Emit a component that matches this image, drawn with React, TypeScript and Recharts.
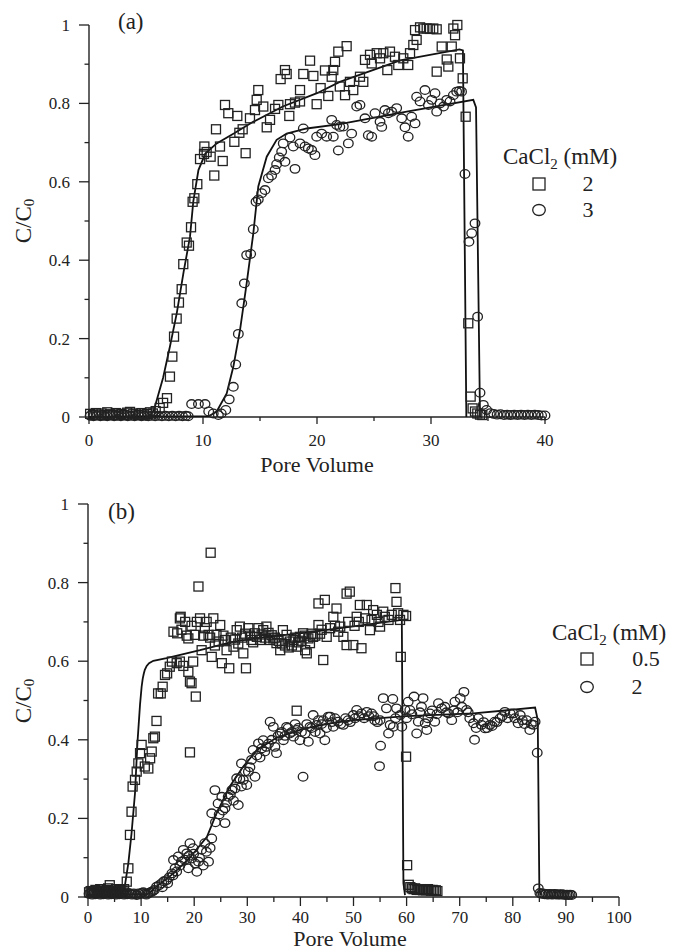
import { ScatterChart, Scatter, XAxis, YAxis } from "recharts";

const INK = "#222";
const SERIF = '"Liberation Serif", "Times New Roman", serif';

// ---- panel (a): CaCl2 2 mM (squares) and 3 mM (circles), [pore volume, C/C0]
const aSquares = [
  [0.1, 0.008], [0.35, 0.005], [0.6, 0.01], [0.85, 0.006], [1.1, 0.009], [1.35, 0.005], [1.6, 0.012],
  [1.85, 0.007], [2.1, 0.005], [2.35, 0.01], [2.6, 0.006], [2.85, 0.008], [3.1, 0.005], [3.35, 0.011],
  [3.6, 0.013], [3.85, 0.007], [4.1, 0.009], [4.35, 0.005], [4.6, 0.01], [4.85, 0.006], [5.1, 0.008],
  [5.35, 0.012], [5.6, 0.009], [5.85, 0.015], [6.2, 0.023], [6.5, 0.036], [6.84, 0.048],
  [7.1, 0.103], [7.31, 0.154], [7.46, 0.205], [7.69, 0.251], [7.89, 0.292], [8.13, 0.326], [8.27, 0.39],
  [8.57, 0.445], [8.77, 0.437], [8.95, 0.484], [9.09, 0.549], [9.24, 0.558], [9.5, 0.594], [9.74, 0.658],
  [10.09, 0.671], [10.32, 0.676], [10.67, 0.664], [10.12, 0.69], [10.99, 0.616], [11.49, 0.69],
  [11.14, 0.734], [11.73, 0.653], [12.75, 0.702], [13.74, 0.673], [13.19, 0.725], [13.48, 0.734],
  [11.93, 0.796], [12.22, 0.775], [13.01, 0.768], [14.12, 0.762], [14.56, 0.783], [14.71, 0.809],
  [14.85, 0.834], [15.29, 0.792], [15.59, 0.739], [15.88, 0.758], [16.32, 0.786], [16.61, 0.796],
  [16.81, 0.862], [17.19, 0.885], [17.34, 0.875], [17.57, 0.768], [17.63, 0.798], [18.07, 0.802],
  [18.51, 0.805], [18.51, 0.834], [18.8, 0.875], [19.39, 0.909], [19.68, 0.87], [19.97, 0.798],
  [20.32, 0.839], [20.7, 0.884], [20.99, 0.819], [21.29, 0.868], [21.43, 0.885], [21.58, 0.906],
  [21.87, 0.932], [22.6, 0.946], [22.46, 0.821], [22.0, 0.843], [22.89, 0.855], [23.18, 0.834],
  [23.77, 0.868], [24.06, 0.855], [24.21, 0.911], [24.65, 0.924], [24.8, 0.902], [25.24, 0.928],
  [25.53, 0.915], [25.82, 0.928], [26.17, 0.885], [26.4, 0.932], [26.84, 0.919], [27.13, 0.898],
  [27.57, 0.915], [28.0, 0.898], [28.16, 0.928], [28.45, 0.949], [28.74, 0.962], [28.6, 0.987],
  [29.04, 0.994], [29.33, 0.991], [29.62, 0.991], [29.91, 0.99], [30.2, 0.991], [30.5, 0.989],
  [30.5, 0.881], [30.94, 0.945], [31.38, 0.912], [31.52, 0.894], [31.82, 0.945], [31.96, 0.991],
  [32.11, 0.974], [32.31, 1.0], [32.54, 0.915], [32.78, 0.864], [33.04, 0.766], [33.27, 0.239],
  [33.48, 0.052], [33.65, 0.022], [33.86, 0.014], [34.06, 0.009], [34.3, 0.006], [34.5, 0.005],
];

const aCircles = [
  [0.1, 0.003], [0.4, 0.002], [0.7, 0.004], [1.0, 0.002], [1.3, 0.003], [1.6, 0.002], [1.9, 0.004],
  [2.2, 0.002], [2.5, 0.003], [2.8, 0.002], [3.1, 0.004], [3.4, 0.002], [3.7, 0.003], [4.0, 0.002],
  [4.3, 0.004], [4.6, 0.002], [4.9, 0.003], [5.2, 0.002], [5.5, 0.003], [5.8, 0.002], [6.1, 0.003],
  [6.4, 0.002], [6.7, 0.003], [7.0, 0.002], [7.3, 0.003], [7.6, 0.002], [7.9, 0.003], [8.2, 0.002],
  [8.5, 0.003], [8.7, 0.002],
  [9.0, 0.033], [9.6, 0.033], [10.18, 0.033], [10.5, 0.014], [10.9, 0.009], [11.35, 0.005], [11.6, 0.009],
  [12.0, 0.018], [12.3, 0.045], [12.66, 0.077], [12.87, 0.134], [13.1, 0.212], [13.4, 0.29], [13.63, 0.341],
  [13.83, 0.413], [14.18, 0.416], [14.41, 0.479], [14.65, 0.549], [14.85, 0.555], [15.15, 0.571],
  [15.44, 0.579], [15.73, 0.609], [16.02, 0.616], [16.32, 0.63], [16.46, 0.645], [16.69, 0.662],
  [17.19, 0.651], [16.9, 0.677], [17.04, 0.698], [17.63, 0.713], [18.07, 0.633], [17.92, 0.69],
  [18.51, 0.698], [18.8, 0.736], [18.95, 0.69], [19.24, 0.685], [19.53, 0.681], [19.82, 0.668],
  [19.97, 0.715], [20.41, 0.723], [20.85, 0.715], [21.29, 0.758], [21.43, 0.715], [21.87, 0.68],
  [22.0, 0.74], [21.73, 0.745], [22.31, 0.741], [22.75, 0.698], [23.04, 0.723], [23.48, 0.792],
  [23.77, 0.796], [24.21, 0.762], [24.5, 0.719], [24.8, 0.715], [25.09, 0.775], [25.53, 0.753],
  [25.68, 0.74], [25.96, 0.783], [26.26, 0.775], [26.55, 0.779], [26.99, 0.788], [27.43, 0.762],
  [27.72, 0.739], [28.0, 0.715], [28.3, 0.766], [28.6, 0.749], [28.74, 0.817], [29.04, 0.805],
  [29.47, 0.834], [29.77, 0.796], [30.06, 0.809], [30.35, 0.826], [30.5, 0.779], [30.79, 0.8],
  [31.1, 0.792], [31.38, 0.809], [31.67, 0.805], [31.96, 0.821], [32.25, 0.83], [32.49, 0.832],
  [32.68, 0.83], [32.98, 0.62], [33.33, 0.447], [33.57, 0.469], [33.86, 0.494], [34.09, 0.256],
  [34.3, 0.062], [34.59, 0.031], [34.88, 0.018],
  [35.2, 0.01], [35.5, 0.008], [35.8, 0.006], [36.1, 0.007], [36.4, 0.005], [36.7, 0.006], [37.0, 0.005],
  [37.3, 0.006], [37.6, 0.005], [37.9, 0.006], [38.2, 0.005], [38.5, 0.006], [38.8, 0.005], [39.1, 0.006],
  [39.4, 0.005], [39.7, 0.004], [40.0, 0.004],
];

// model curves
const aSquaresModel = [
  [0, 0], [5.3, 0.002], [5.7, 0.018], [5.94, 0.043], [6.5, 0.1], [7.1, 0.18], [7.7, 0.265], [8.3, 0.37],
  [8.86, 0.46], [9.15, 0.55], [9.6, 0.63], [10.2, 0.672], [11.2, 0.698], [12.7, 0.723], [14.4, 0.753],
  [17, 0.792], [20, 0.826], [22, 0.855], [27.3, 0.91], [32.5, 0.938], [32.8, 0.935], [33.1, 0],
];
const aCirclesModel = [
  [0, 0], [10.5, 0.002], [11.2, 0.014], [12.08, 0.06], [12.66, 0.128], [13.25, 0.222], [13.83, 0.341],
  [14.41, 0.468], [14.85, 0.588], [15.59, 0.664], [16.46, 0.707], [17.34, 0.723], [19.1, 0.736],
  [22, 0.747], [27.87, 0.779], [33.71, 0.809], [33.95, 0.79], [34.3, 0],
];

// ---- panel (b): CaCl2 0.5 mM (squares) and 2 mM (circles)
const bSquares = [
  [0.2, 0.012], [0.5, 0.015], [0.8, 0.01], [1.1, 0.014], [1.4, 0.018], [1.7, 0.012], [2.0, 0.015],
  [2.3, 0.02], [2.6, 0.013], [2.9, 0.016], [3.2, 0.012], [3.5, 0.018], [3.8, 0.022], [4.1, 0.03],
  [4.4, 0.015], [4.7, 0.012], [5.0, 0.016], [5.3, 0.02], [5.6, 0.014], [5.9, 0.018], [6.2, 0.012],
  [6.5, 0.016], [6.8, 0.02], [7.3, 0.039],
  [7.6, 0.073], [7.9, 0.158], [8.2, 0.217], [8.4, 0.281], [8.85, 0.298], [9.17, 0.319], [9.48, 0.34],
  [9.8, 0.366], [10.1, 0.387], [10.7, 0.332], [11.36, 0.327], [11.7, 0.353], [12.0, 0.37], [12.3, 0.404],
  [12.6, 0.408], [12.9, 0.448], [13.2, 0.518], [13.7, 0.518], [14.06, 0.535], [14.5, 0.565],
  [14.9, 0.569], [15.4, 0.586], [15.8, 0.599], [16.7, 0.595], [17.3, 0.599], [17.95, 0.588],
  [18.9, 0.573], [19.5, 0.544], [19.2, 0.548], [20.3, 0.51], [19.2, 0.368], [19.8, 0.599],
  [16.1, 0.675], [16.8, 0.671], [17.3, 0.709], [17.45, 0.713], [18.3, 0.7], [18.9, 0.658], [20.15, 0.667],
  [21.1, 0.709], [21.4, 0.628], [20.8, 0.79], [23.1, 0.876], [22.0, 0.684], [22.35, 0.7], [22.7, 0.667],
  [23.3, 0.611], [23.6, 0.709], [24.2, 0.667], [24.9, 0.692], [25.2, 0.595], [25.8, 0.654],
  [26.1, 0.628], [26.6, 0.582], [27.4, 0.637], [28.0, 0.679], [28.6, 0.688], [29.25, 0.62],
  [29.75, 0.582], [30.2, 0.684], [30.8, 0.654], [31.45, 0.671], [32.1, 0.684], [32.4, 0.654],
  [33.0, 0.679], [33.6, 0.688], [34.3, 0.654], [34.9, 0.658], [35.5, 0.646], [36.2, 0.628],
  [36.7, 0.679], [37.4, 0.667], [38.0, 0.65], [38.7, 0.654], [39.3, 0.637], [39.9, 0.662],
  [40.5, 0.671], [41.2, 0.62], [41.8, 0.646], [42.4, 0.662], [43.4, 0.692], [44.3, 0.603],
  [43.4, 0.747], [44.6, 0.756], [44.95, 0.662], [39.3, 0.474], [40.9, 0.628],
  [17.6, 0.68], [18.6, 0.665], [19.5, 0.69], [20.5, 0.7], [21.7, 0.665], [23.0, 0.66], [23.9, 0.64],
  [24.6, 0.65], [25.5, 0.665], [26.9, 0.66], [27.7, 0.655], [28.3, 0.645], [29.0, 0.66], [29.6, 0.67],
  [30.5, 0.665], [31.1, 0.648], [31.8, 0.662], [32.7, 0.668], [33.3, 0.66], [34.0, 0.672], [34.6, 0.666],
  [35.2, 0.66], [35.9, 0.652], [36.5, 0.645], [37.1, 0.64], [37.8, 0.635], [38.4, 0.64], [39.0, 0.66],
  [39.6, 0.648], [40.2, 0.652], [40.8, 0.665], [41.5, 0.658], [42.1, 0.67], [42.8, 0.665], [43.7, 0.67],
  [44.0, 0.68],
  [45.6, 0.684], [46.2, 0.713], [46.8, 0.734], [47.5, 0.688], [48.1, 0.662], [48.7, 0.772], [49.3, 0.777],
  [48.7, 0.641], [49.96, 0.641], [50.6, 0.713], [51.2, 0.743], [51.5, 0.633], [52.2, 0.709], [52.5, 0.743],
  [53.1, 0.679], [53.7, 0.73], [54.4, 0.718], [55.0, 0.688], [55.6, 0.726], [55.9, 0.713], [56.6, 0.705],
  [57.2, 0.718], [57.9, 0.786], [58.1, 0.751], [58.4, 0.722], [58.76, 0.705], [59.4, 0.718], [59.9, 0.715],
  [46.5, 0.69], [47.1, 0.675], [49.0, 0.7], [50.2, 0.69], [51.0, 0.7], [53.4, 0.705], [54.7, 0.7],
  [58.9, 0.611], [59.9, 0.357], [60.1, 0.081],
  [60.4, 0.031], [60.7, 0.025], [61.0, 0.022], [61.3, 0.02], [61.6, 0.022], [61.9, 0.018], [62.2, 0.02],
  [62.5, 0.018], [62.8, 0.02], [63.1, 0.017], [63.4, 0.019], [63.7, 0.017], [64.0, 0.02], [64.3, 0.018],
  [64.6, 0.016], [64.9, 0.018], [65.2, 0.016], [65.5, 0.017], [65.8, 0.015],
];

const bCircles = [
  [0.2, 0.008], [0.5, 0.01], [0.8, 0.006], [1.1, 0.009], [1.4, 0.007], [1.7, 0.01], [2.0, 0.008],
  [2.3, 0.006], [2.6, 0.009], [2.9, 0.007], [3.2, 0.01], [3.5, 0.008], [3.8, 0.006], [4.1, 0.009],
  [4.4, 0.007], [4.7, 0.01], [5.0, 0.008], [5.3, 0.006], [5.6, 0.009], [5.9, 0.007], [6.2, 0.01],
  [6.5, 0.008], [6.8, 0.006], [7.1, 0.009], [7.4, 0.007], [7.7, 0.01], [8.0, 0.008], [8.3, 0.006],
  [8.6, 0.009], [8.9, 0.007], [9.2, 0.005], [9.5, 0.009], [9.8, 0.007], [10.1, 0.01], [10.4, 0.012],
  [10.7, 0.008], [11.0, 0.006], [11.3, 0.009], [11.6, 0.011], [11.9, 0.013], [12.2, 0.015], [12.5, 0.018],
  [12.9, 0.026], [13.4, 0.03], [13.9, 0.035], [14.3, 0.04], [14.8, 0.043], [15.3, 0.05], [15.8, 0.06],
  [16.4, 0.073], [16.1, 0.094], [17.0, 0.103], [17.6, 0.09], [17.95, 0.12], [18.6, 0.111], [18.9, 0.073],
  [19.2, 0.137], [19.5, 0.098], [19.8, 0.124], [20.5, 0.064], [20.8, 0.09], [21.4, 0.12], [22.0, 0.137],
  [22.7, 0.09], [23.3, 0.149], [23.3, 0.213], [23.9, 0.272], [24.5, 0.238], [25.2, 0.255], [25.8, 0.188],
  [25.8, 0.226], [26.4, 0.255], [27.1, 0.272], [27.7, 0.276], [28.3, 0.234], [28.0, 0.302], [28.9, 0.281],
  [29.25, 0.298], [29.9, 0.285], [28.9, 0.34], [30.2, 0.319], [30.8, 0.349], [31.45, 0.306], [31.1, 0.374],
  [32.1, 0.391], [32.7, 0.378], [33.0, 0.399], [33.6, 0.382], [34.3, 0.446], [34.9, 0.433], [35.2, 0.382],
  [35.5, 0.366], [36.2, 0.416], [36.8, 0.399], [37.4, 0.433], [38.0, 0.416], [38.7, 0.408], [39.3, 0.425],
  [39.9, 0.399], [40.5, 0.306], [40.9, 0.416], [41.5, 0.395], [41.8, 0.433], [42.4, 0.463], [43.1, 0.438],
  [43.7, 0.416], [44.3, 0.45], [44.6, 0.399], [45.25, 0.459],
  [14.0, 0.025], [15.0, 0.035], [16.0, 0.055], [16.7, 0.065], [17.3, 0.08], [18.2, 0.095], [19.0, 0.105],
  [19.9, 0.11], [20.2, 0.085], [21.0, 0.1], [21.7, 0.08], [22.3, 0.115], [23.0, 0.125], [24.0, 0.19],
  [24.7, 0.21], [25.4, 0.22], [26.1, 0.24], [26.8, 0.26], [27.4, 0.245], [28.6, 0.3], [29.6, 0.32],
  [30.5, 0.33], [31.8, 0.36], [32.4, 0.355], [33.3, 0.37], [34.0, 0.39], [34.6, 0.4], [35.8, 0.41],
  [36.5, 0.42], [37.1, 0.41], [37.7, 0.43], [38.4, 0.42], [39.0, 0.44], [39.6, 0.43], [40.2, 0.42],
  [41.2, 0.44], [42.1, 0.43], [42.8, 0.42], [43.4, 0.45], [44.0, 0.44], [44.9, 0.43],
  [45.6, 0.459], [46.2, 0.433], [47.1, 0.446], [48.1, 0.438], [49.0, 0.45], [49.96, 0.463], [50.6, 0.476],
  [51.5, 0.467], [52.5, 0.471], [53.4, 0.467], [54.0, 0.45], [55.0, 0.45], [55.1, 0.385], [54.9, 0.333],
  [55.6, 0.506], [57.4, 0.504], [56.2, 0.48], [56.9, 0.438], [56.6, 0.416], [57.5, 0.433], [58.1, 0.48],
  [58.8, 0.463], [59.1, 0.433], [59.7, 0.476], [60.3, 0.497], [60.6, 0.476], [61.4, 0.51], [61.9, 0.416],
  [62.2, 0.446], [62.8, 0.484], [63.1, 0.506], [63.5, 0.442], [63.8, 0.425], [64.4, 0.467], [65.3, 0.446],
  [66.0, 0.493], [66.6, 0.48], [67.2, 0.484], [67.9, 0.467], [68.5, 0.45], [69.1, 0.497], [70.1, 0.506],
  [70.8, 0.522], [70.4, 0.484], [71.3, 0.476], [71.9, 0.455], [72.6, 0.442], [72.8, 0.4], [73.5, 0.455],
  [74.1, 0.438], [74.8, 0.429], [75.7, 0.438], [76.6, 0.446], [77.6, 0.455], [78.5, 0.471], [79.5, 0.467],
  [80.1, 0.467], [80.4, 0.455], [81.0, 0.442], [81.4, 0.463], [82.6, 0.45], [83.2, 0.425], [83.9, 0.438],
  [84.2, 0.446], [84.6, 0.367], [84.8, 0.022],
  [45.9, 0.445], [46.5, 0.455], [47.6, 0.44], [48.5, 0.455], [49.4, 0.445], [50.3, 0.455], [51.0, 0.46],
  [52.0, 0.455], [52.9, 0.46], [53.8, 0.46], [54.5, 0.445], [57.9, 0.455], [60.0, 0.455], [61.0, 0.465],
  [62.5, 0.47], [64.0, 0.455], [64.8, 0.475], [65.7, 0.465], [67.5, 0.47], [68.9, 0.475], [69.6, 0.47],
  [71.6, 0.47], [73.1, 0.43], [74.5, 0.445], [75.2, 0.43], [76.1, 0.435], [77.0, 0.445], [78.0, 0.46],
  [79.0, 0.455], [81.8, 0.45], [82.2, 0.44], [83.5, 0.44],
  [85.1, 0.01], [85.4, 0.008], [85.7, 0.009], [86.0, 0.007], [86.3, 0.008], [86.6, 0.006], [86.9, 0.008],
  [87.2, 0.007], [87.5, 0.006], [87.8, 0.008], [88.1, 0.007], [88.4, 0.006], [88.7, 0.007], [89.0, 0.006],
  [89.3, 0.007], [89.6, 0.006], [89.9, 0.005], [90.2, 0.006], [90.5, 0.005], [90.8, 0.006], [91.1, 0.005],
];

const bSquaresModel = [
  [0, 0.005], [6.3, 0.008], [6.9, 0.025], [7.6, 0.086], [8.2, 0.162], [8.85, 0.264], [9.3, 0.39],
  [9.8, 0.49], [10.1, 0.535], [10.3, 0.555], [10.5, 0.568], [10.7, 0.578], [11.05, 0.588], [11.5, 0.595],
  [12.3, 0.601], [14.8, 0.608], [21.1, 0.628], [27.4, 0.65], [33.6, 0.662], [39.9, 0.671], [47.5, 0.684],
  [59.1, 0.705], [59.4, 0.035], [59.7, 0.005],
];
const bCirclesModel = [
  [0, 0.005], [11.5, 0.008], [12.3, 0.02], [16.1, 0.06], [19.2, 0.1], [22.4, 0.153], [24.2, 0.213],
  [26.7, 0.281], [29.25, 0.332], [31.8, 0.374], [35.5, 0.405], [40.5, 0.428], [45.6, 0.442], [50, 0.45],
  [60, 0.46], [72.6, 0.467], [84.2, 0.482], [84.7, 0.45], [85.0, 0.02], [85.3, 0.005],
];

const yTicks = [0, 0.1, 0.2, 0.3, 0.4, 0.5, 0.6, 0.7, 0.8, 0.9, 1];
const aXTicks = [0, 5, 10, 15, 20, 25, 30, 35, 40];
const bXTicks = [0, 5, 10, 15, 20, 25, 30, 35, 40, 45, 50, 55, 60, 65, 70, 75, 80, 85, 90, 95, 100];

const pts = (rows: number[][]) => rows.map(([x, y]) => ({ x, y }));

const SquareMark = (p: any) => (
  <rect x={p.cx - 4.5} y={p.cy - 4.5} width={9} height={9} fill="none" stroke={INK} strokeWidth={1.3} />
);
const CircleMark = (p: any) => (
  <ellipse cx={p.cx} cy={p.cy} rx={4.8} ry={4.3} fill="none" stroke={INK} strokeWidth={1.3} />
);
const NoMark = () => <g />;

const XTick = (p: any) => {
  const { x, y, payload, majorLen, minorLen, labelGap } = p;
  const v = payload.value;
  const major = v % 10 === 0;
  return (
    <g>
      <line x1={x} x2={x} y1={y} y2={y + (major ? majorLen : minorLen)} stroke={INK} strokeWidth={1.3} />
      {major && (
        <text x={x} y={y + labelGap} dy="0.35em" textAnchor="middle" fontSize={17} fontFamily={SERIF} fill={INK}>
          {v}
        </text>
      )}
    </g>
  );
};

const YTick = (p: any) => {
  const { x, y, payload } = p;
  const v = payload.value;
  const major = Math.round(v * 10) % 2 === 0;
  return (
    <g>
      <line x1={x - (major ? 10 : 4.5)} x2={x} y1={y} y2={y} stroke={INK} strokeWidth={1.3} />
      {major && (
        <text x={x - 19} y={y} dy="0.35em" textAnchor="end" fontSize={17} fontFamily={SERIF} fill={INK}>
          {v}
        </text>
      )}
    </g>
  );
};

const lineStyle = { stroke: "#111", strokeWidth: 1.8 };
const axisStyle = { stroke: INK, strokeWidth: 1.4 };

function Panel(props: {
  width: number;
  height: number;
  margin: { top: number; right: number; left: number; bottom: number };
  xMax: number;
  xTicks: number[];
  majorLen: number;
  minorLen: number;
  labelGap: number;
  squares: number[][];
  circles: number[][];
  squaresModel: number[][];
  circlesModel: number[][];
}) {
  return (
    <ScatterChart width={props.width} height={props.height} margin={props.margin}>
      <XAxis
        type="number"
        dataKey="x"
        domain={[0, props.xMax]}
        ticks={props.xTicks}
        interval={0}
        tickSize={0}
        tickMargin={0}
        tickLine={false}
        axisLine={axisStyle}
        height={30}
        tick={<XTick majorLen={props.majorLen} minorLen={props.minorLen} labelGap={props.labelGap} />}
      />
      <YAxis
        type="number"
        dataKey="y"
        domain={[0, 1]}
        ticks={yTicks}
        interval={0}
        tickSize={0}
        tickMargin={0}
        tickLine={false}
        axisLine={axisStyle}
        width={60}
        tick={<YTick />}
      />
      <Scatter data={pts(props.squaresModel)} line={lineStyle} lineType="joint" shape={<NoMark />} isAnimationActive={false} />
      <Scatter data={pts(props.circlesModel)} line={lineStyle} lineType="joint" shape={<NoMark />} isAnimationActive={false} />
      <Scatter data={pts(props.squares)} shape={<SquareMark />} isAnimationActive={false} />
      <Scatter data={pts(props.circles)} shape={<CircleMark />} isAnimationActive={false} />
    </ScatterChart>
  );
}

const txt = { fontFamily: SERIF, fill: INK } as const;

export default function App() {
  return (
    <div style={{ position: "absolute", left: 0, top: 0, width: 678, height: 952, background: "#fff" }}>
      <div style={{ position: "absolute", left: 0, top: 0 }}>
        <Panel
          width={678}
          height={460}
          margin={{ top: 25, right: 133, left: 29, bottom: 13 }}
          xMax={40}
          xTicks={aXTicks}
          majorLen={7}
          minorLen={4}
          labelGap={23}
          squares={aSquares}
          circles={aCircles}
          squaresModel={aSquaresModel}
          circlesModel={aCirclesModel}
        />
      </div>
      <div style={{ position: "absolute", left: 0, top: 460 }}>
        <Panel
          width={678}
          height={492}
          margin={{ top: 44, right: 59, left: 28, bottom: 25 }}
          xMax={100}
          xTicks={bXTicks}
          majorLen={9}
          minorLen={5}
          labelGap={20}
          squares={bSquares}
          circles={bCircles}
          squaresModel={bSquaresModel}
          circlesModel={bCirclesModel}
        />
      </div>
      <svg width={678} height={952} style={{ position: "absolute", left: 0, top: 0, pointerEvents: "none" }}>
        {/* panel (a) texts */}
        <text x={118} y={29} fontSize={23} {...txt}>(a)</text>
        <text x={31} y={221} transform="rotate(-90 31 221)" textAnchor="middle" fontSize={23} {...txt}>
          C/C<tspan dy={3} fontSize={15}>0</tspan>
        </text>
        <text x={317} y={472} textAnchor="middle" fontSize={22} {...txt}>Pore Volume</text>
        <text x={503} y={164} fontSize={23} {...txt}>
          CaCl<tspan dy={5} fontSize={15}>2</tspan><tspan dy={-5}> (mM)</tspan>
        </text>
        <rect x={533} y={178} width={12} height={12} fill="none" stroke={INK} strokeWidth={1.3} />
        <text x={588} y={191} textAnchor="middle" fontSize={22} {...txt}>2</text>
        <ellipse cx={539} cy={210} rx={6.3} ry={5.5} fill="none" stroke={INK} strokeWidth={1.3} />
        <text x={588} y={217} textAnchor="middle" fontSize={22} {...txt}>3</text>

        {/* panel (b) texts */}
        <text x={108} y={519} fontSize={23} {...txt}>(b)</text>
        <text x={31} y={701} transform="rotate(-90 31 701)" textAnchor="middle" fontSize={23} {...txt}>
          C/C<tspan dy={3} fontSize={15}>0</tspan>
        </text>
        <text x={350} y={946} textAnchor="middle" fontSize={22} {...txt}>Pore Volume</text>
        <text x={552} y={640} fontSize={23} {...txt}>
          CaCl<tspan dy={5} fontSize={15}>2</tspan><tspan dy={-5}> (mM)</tspan>
        </text>
        <rect x={581} y={653} width={12} height={12} fill="none" stroke={INK} strokeWidth={1.3} />
        <text x={646} y={666} textAnchor="middle" fontSize={22} {...txt}>0.5</text>
        <ellipse cx={587} cy={687} rx={6.3} ry={5.5} fill="none" stroke={INK} strokeWidth={1.3} />
        <text x={637} y={694} textAnchor="middle" fontSize={22} {...txt}>2</text>
      </svg>
    </div>
  );
}
